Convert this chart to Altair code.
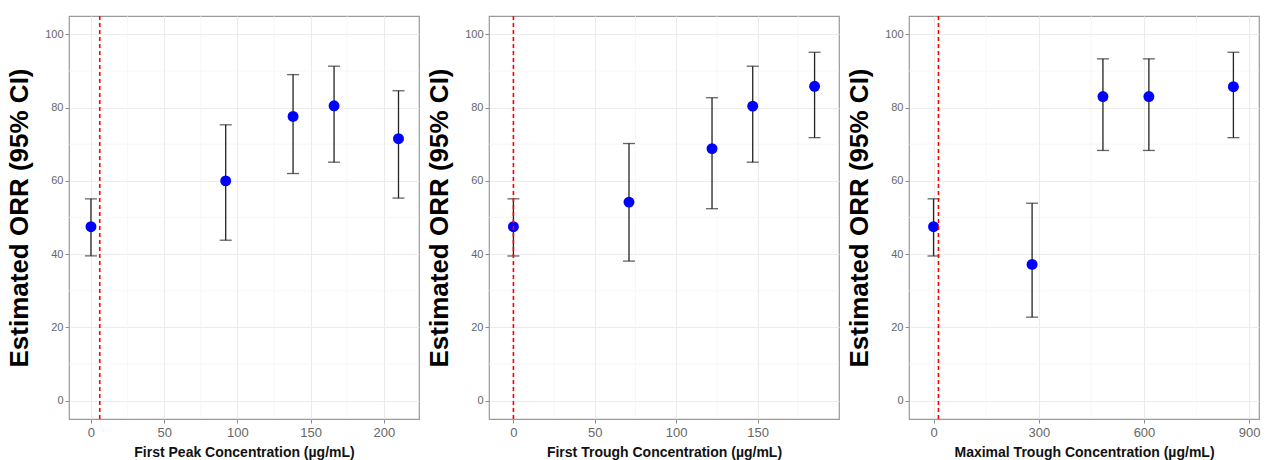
import altair as alt
import pandas as pd

# ---------------- data ----------------
peak_x = [0, 92, 138, 166, 210]
peak_y = [47.5, 60.0, 77.6, 80.5, 71.5]
peak_lo = [39.5, 43.8, 62.0, 65.1, 55.3]
peak_hi = [55.1, 75.3, 89.0, 91.3, 84.6]

trough_x = [0, 71, 122, 147, 185]
trough_y = [47.5, 54.2, 68.8, 80.4, 85.8]
trough_lo = [39.5, 38.1, 52.4, 65.1, 71.8]
trough_hi = [55.1, 70.2, 82.7, 91.3, 95.1]

maxt_x = [0, 281, 483, 614, 855]
maxt_y = [47.5, 37.2, 83.0, 83.0, 85.7]
maxt_lo = [39.5, 22.8, 68.3, 68.3, 71.8]
maxt_hi = [55.1, 53.9, 93.3, 93.3, 95.1]

cutoffs = [6, 0, 14]
titles = [
    "First Peak Concentration (\u00b5g/mL)",
    "First Trough Concentration (\u00b5g/mL)",
    "Maximal Trough Concentration (\u00b5g/mL)",
]
x_domains = [[-15, 224], [-15, 200], [-70, 928]]
x_major = [[0, 50, 100, 150, 200], [0, 50, 100, 150], [0, 300, 600, 900]]
x_minor = [[25, 75, 125, 175], [25, 75, 125, 175], [150, 450, 750]]
y_major = [0, 20, 40, 60, 80, 100]
y_minor = [10, 30, 50, 70, 90]

FONT = "Liberation Sans"
W, H = 350, 403


def panel(xs, ys, lo, hi, cut, xdom, xmaj, xmin, title):
    df = pd.DataFrame({"x": xs, "y": ys, "lo": lo, "hi": hi})
    xs_ = alt.Scale(domain=xdom, nice=False, zero=False)
    ys_ = alt.Scale(domain=[-5, 105], nice=False, zero=False)

    xaxis = alt.Axis(
        values=xmaj, title=title, grid=True, gridColor="#EBEBEB", gridWidth=1.1,
        labelFontSize=13, labelColor="#666666", labelFont=FONT, labelPadding=3,
        tickColor="#8a8a8a", tickSize=4, domain=False,
        titleFont=FONT, titleFontSize=14, titleFontWeight="bold", titleColor="#111111",
        titlePadding=6,
    )
    yaxis = alt.Axis(
        values=y_major, title="Estimated ORR (95% CI)", grid=True, gridColor="#EBEBEB",
        gridWidth=1.1, labelFontSize=11, labelColor="#666666", labelFont=FONT,
        labelPadding=2, tickColor="#8a8a8a", tickSize=4, domain=False,
        titleFont=FONT, titleFontSize=26, titleFontWeight="bold", titleColor="#000000",
        titlePadding=12,
    )
    X = lambda f: alt.X(f, scale=xs_, axis=xaxis)
    Y = lambda f: alt.Y(f, scale=ys_, axis=yaxis)

    minor_x = alt.Chart(pd.DataFrame({"v": xmin})).mark_rule(
        color="#F4F4F4", strokeWidth=0.7
    ).encode(x=X("v:Q"))
    minor_y = alt.Chart(pd.DataFrame({"v": y_minor})).mark_rule(
        color="#F4F4F4", strokeWidth=0.7
    ).encode(y=Y("v:Q"))

    base = alt.Chart(df)
    bars = base.mark_rule(color="#222222", strokeWidth=1.3).encode(
        x=X("x:Q"), y=Y("lo:Q"), y2="hi:Q",
    )
    cap_lo = base.mark_tick(color="#222222", orient="horizontal", size=12, thickness=1.3).encode(
        x=X("x:Q"), y=Y("lo:Q")
    )
    cap_hi = base.mark_tick(color="#222222", orient="horizontal", size=12, thickness=1.3).encode(
        x=X("x:Q"), y=Y("hi:Q")
    )
    pts = base.mark_point(filled=True, color="#0000FF", opacity=1, size=120).encode(
        x=X("x:Q"), y=Y("y:Q")
    )
    vline = alt.Chart(pd.DataFrame({"c": [cut]})).mark_rule(
        color="#FF0000", strokeWidth=1.6, strokeDash=[4, 3]
    ).encode(x=X("c:Q"))

    return alt.layer(minor_x, minor_y, bars, cap_lo, cap_hi, pts, vline).properties(
        width=W, height=H
    )


p1 = panel(peak_x, peak_y, peak_lo, peak_hi, cutoffs[0], x_domains[0], x_major[0], x_minor[0], titles[0])
p2 = panel(trough_x, trough_y, trough_lo, trough_hi, cutoffs[1], x_domains[1], x_major[1], x_minor[1], titles[1])
p3 = panel(maxt_x, maxt_y, maxt_lo, maxt_hi, cutoffs[2], x_domains[2], x_major[2], x_minor[2], titles[2])

chart = (
    alt.hconcat(p1, p2, p3, spacing=6)
    .properties(padding={"left": 6, "top": 14, "right": 0, "bottom": 0}, background="white")
    .configure_view(stroke="#9a9a9a", strokeWidth=1.2)
)

chart.save("out.html", embed_options={"renderer": "svg", "actions": False})
